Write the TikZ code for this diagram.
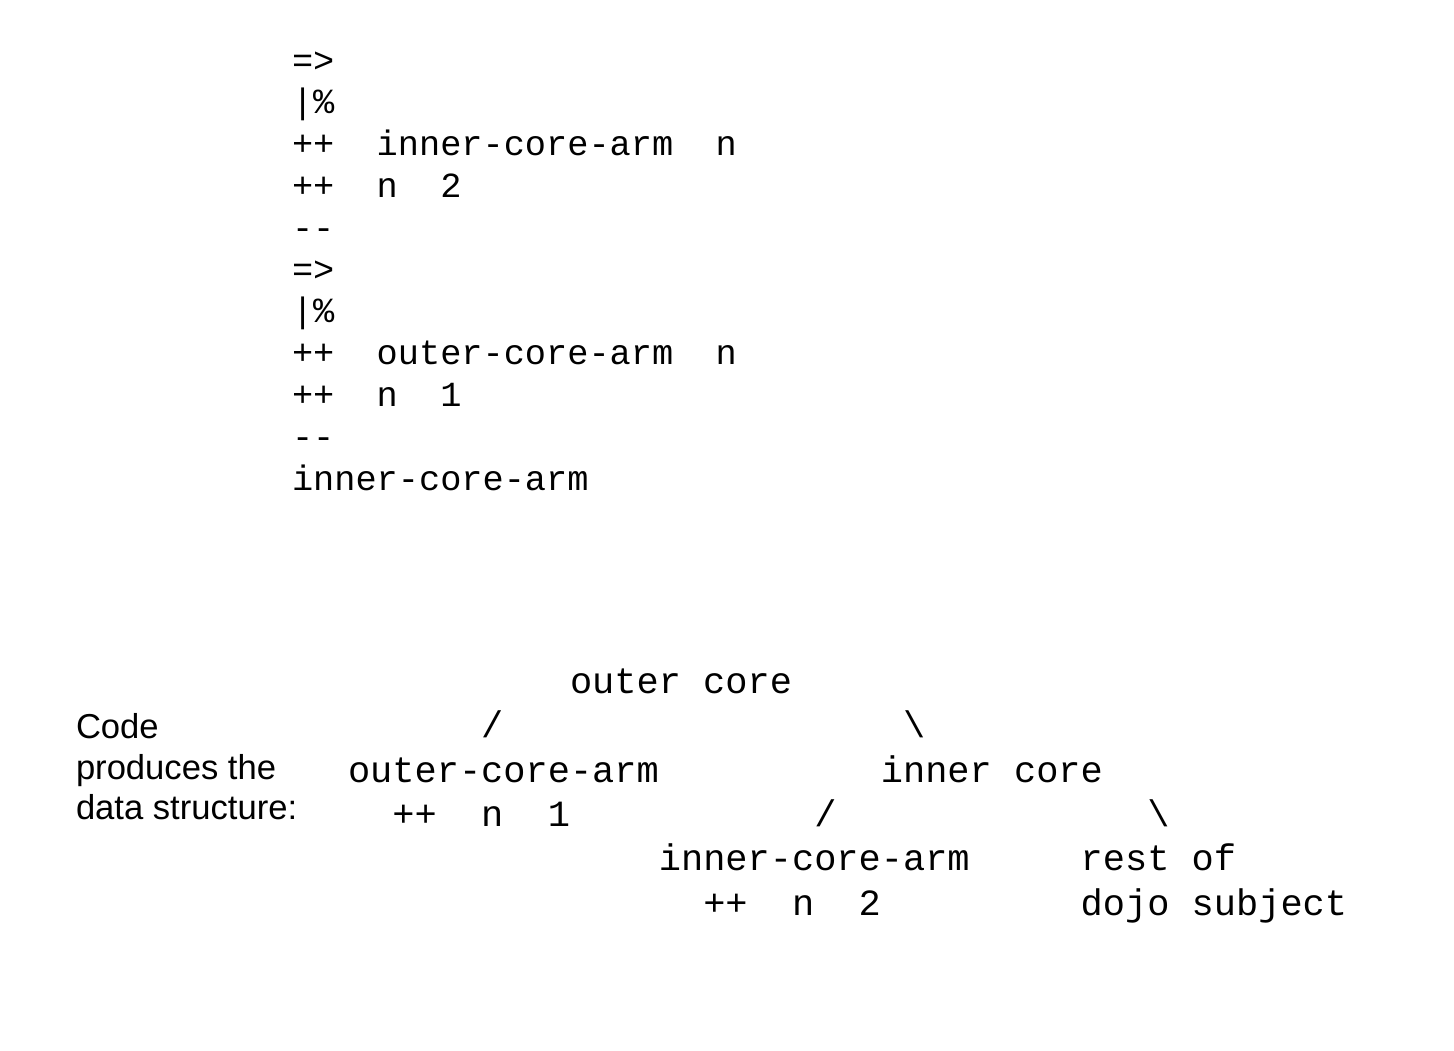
\documentclass[tikz,border=0pt]{standalone}
\usepackage{fontspec}
\setmonofont{Liberation Mono}
\setsansfont{Liberation Sans}
\usepackage{tikz}

\newcommand\srcfont{\ttfamily\fontsize{17.65}{20}\selectfont}
\newcommand\treefont{\ttfamily\fontsize{18.5}{21}\selectfont}
\newcommand\notefont{\sffamily\fontsize{17.3}{20}\selectfont}

\begin{document}
\begin{tikzpicture}[x=0.5pt, y=-0.5pt,
			every node/.style={inner sep=0pt, outer sep=0pt},
			src/.style={font=\srcfont, anchor=base west},
			tree/.style={font=\treefont, anchor=base west},
			note/.style={font=\notefont, anchor=base west}
			]
			\useasboundingbox (0,0) rectangle (1454,1050);
			
			% Bovenste blok: de code
			\node[src] (arrowA) at (292,72)    {=>};
			\node[src] (modA)   at (292,113.8) {|\%};
			\node[src] (plusA)  at (292,155.6) {++~~inner-core-arm~~n};
			\node[src] (plusB)  at (292,197.4) {++~~n~~2};
			\node[src] (endA)   at (292,239.2) {-{}-};
			\node[src] (arrowB) at (292,281)   {=>};
			\node[src] (modB)   at (292,322.8) {|\%};
			\node[src] (plusC)  at (292,364.6) {++~~outer-core-arm~~n};
			\node[src] (plusD)  at (292,406.4) {++~~n~~1};
			\node[src] (endB)   at (292,448.2) {-{}-};
			\node[src] (armA)   at (292,490)   {inner-core-arm};
			
			% Uitleg links
			\node[note] (noteA) at (76,738) {Code};
			\node[note] (noteB) at (76,779) {produces the};
			\node[note] (noteC) at (76,819) {data structure:};
			
			% Onderste blok: de boom
			\node[tree] (treeA) at (348,693.2) {~~~~~~~~~~outer core};
			\node[tree] (treeB) at (348,737.6) {~~~~~~/~~~~~~~~~~~~~~~~~~\textbackslash};
			\node[tree] (treeC) at (348,782)   {outer-core-arm~~~~~~~~~~inner core};
			\node[tree] (treeD) at (348,826.4) {~~++~~n~~1~~~~~~~~~~~/~~~~~~~~~~~~~~\textbackslash};
			\node[tree] (treeE) at (348,870.8) {~~~~~~~~~~~~~~inner-core-arm~~~~~rest of};
			\node[tree] (treeF) at (348,915.2) {~~~~~~~~~~~~~~~~++~~n~~2~~~~~~~~~dojo subject};
			
		\end{tikzpicture}
\end{document}
